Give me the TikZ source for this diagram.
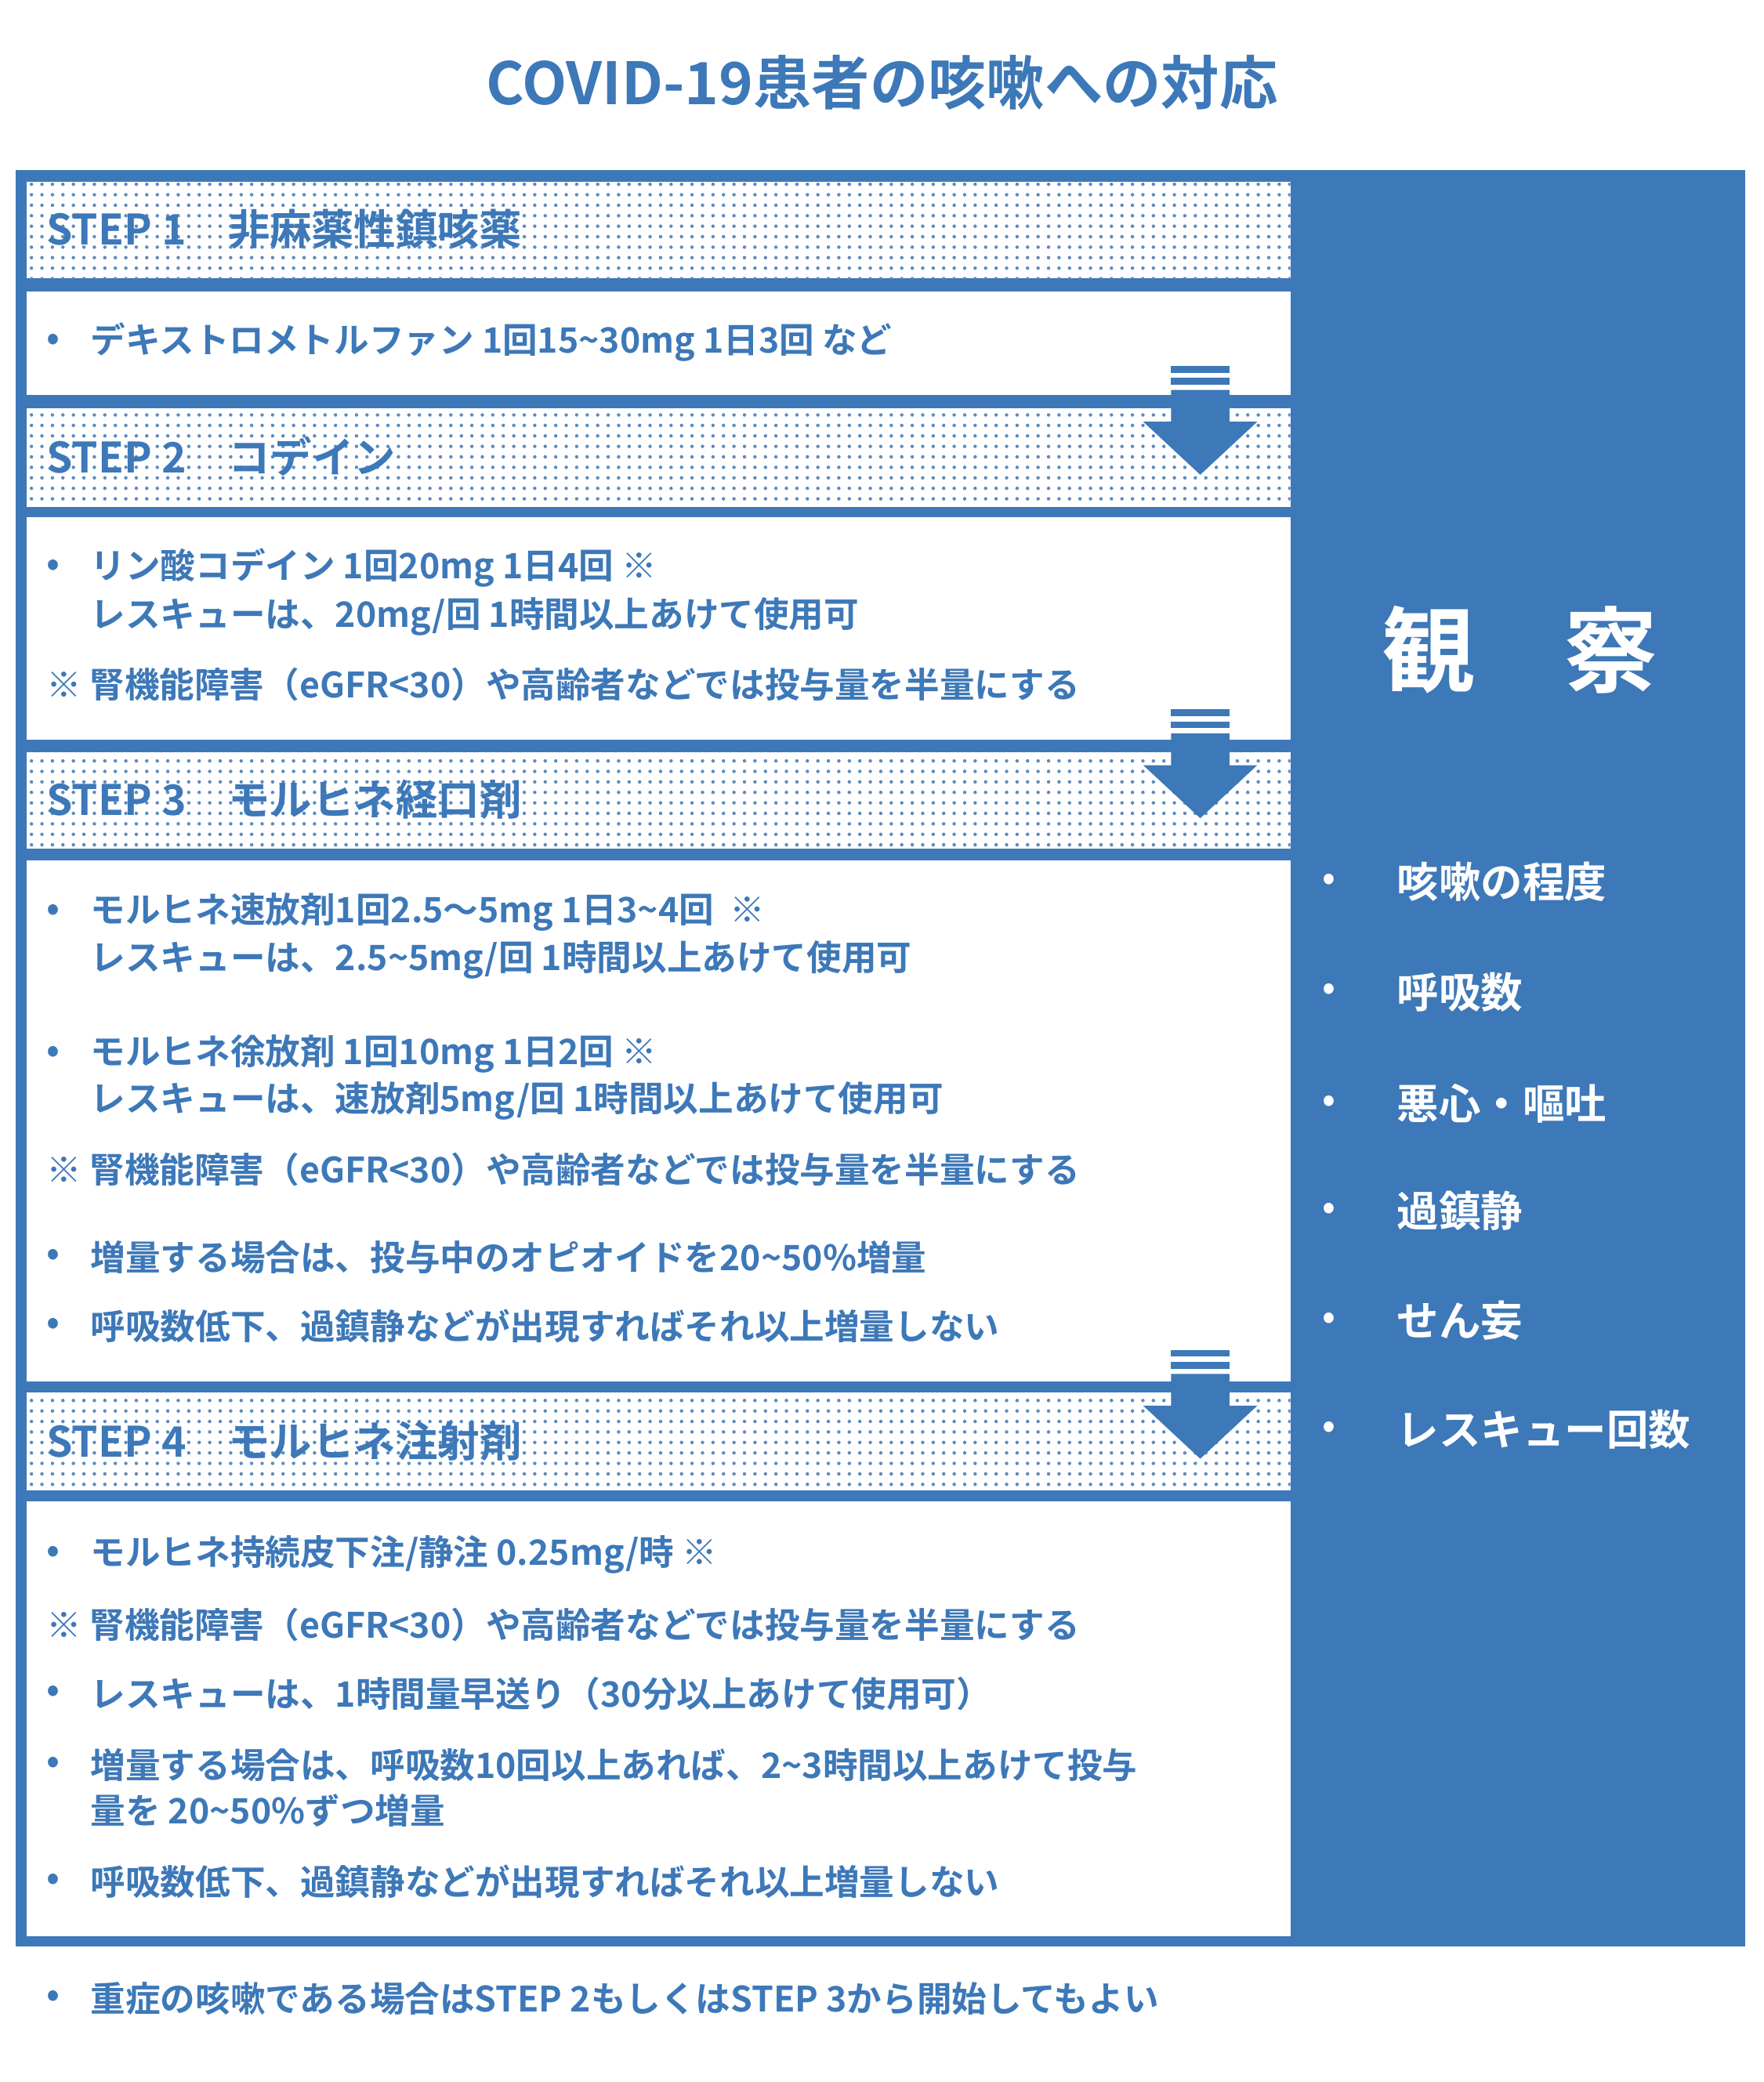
\documentclass[tikz,border=0pt]{standalone}
\usepackage{fontspec}
\setmainfont{Noto Sans CJK JP}[BoldFont={Noto Sans CJK JP Bold}]
\usetikzlibrary{patterns.meta}
\definecolor{cblue}{HTML}{3D78B8}
\newcommand{\tl}{\char"7E\relax}
\tikzset{
  headbox/.style={fill=white,pattern={Dots[distance=4.5pt,radius=0.75pt]},pattern color=cblue!85},
  bodybox/.style={fill=white},
  headtxt/.style={anchor=west,text=cblue,font=\bfseries\fontsize{18}{20}\selectfont,inner sep=0},
  bodytxt/.style={anchor=west,text=cblue,font=\bfseries\fontsize{15}{19}\selectfont,inner sep=0,align=left},
  dot/.style={anchor=center,text=cblue,font=\bfseries\fontsize{15}{19}\selectfont,inner sep=0},
  sidetxt/.style={anchor=west,text=white,font=\bfseries\fontsize{18}{20}\selectfont,inner sep=0},
}
\newcommand{\steparrow}[2]{%
  \fill[cblue] (883,#1) rectangle (927,#1+5);
  \fill[cblue] (883,#1+9) rectangle (927,#1+14);
  \fill[cblue] (883,#1+18) -- (927,#1+18) -- (927,#1+42) -- (948,#1+42)
     -- (905,#1+82) coordinate (#2) -- (862,#1+42) -- (883,#1+42) -- cycle;}
\begin{document}
\begin{tikzpicture}[x=0.02cm,y=-0.02cm]
\useasboundingbox (0,0) rectangle (1330,1570);
% title
\node[text=cblue,font=\bfseries\fontsize{25}{28}\selectfont] (title) at (665,62) {COVID-19患者の咳嗽への対応};
% frame
\fill[cblue] (12,128) rectangle (1316,1468);
\foreach \a/\b/\s in {137/210/headbox,220/298/bodybox,308/382/headbox,390/558/bodybox,
    567/640/headbox,649/1042/bodybox,1050/1124/headbox,1132/1460/bodybox}
  \fill[white] (20,\a) rectangle (973,\b);
\foreach \a/\b in {137/210,308/382,567/640,1050/1124}
  \path[headbox] (20,\a) rectangle (973,\b);
% arrows
\steparrow{276}{a1}
\steparrow{535}{a2}
\steparrow{1018}{a3}
% headers
\node[headtxt] (h1) at (35,173) {STEP 1\quad 非麻薬性鎮咳薬};
\node[headtxt] (h2) at (35,344) {STEP 2\quad コデイン};
\node[headtxt] (h3) at (35,603) {STEP 3\quad モルヒネ経口剤};
\node[headtxt] (h4) at (35,1087) {STEP 4\quad モルヒネ注射剤};
% bullets
\foreach \y in {258,428,688,795,948,1000,1172,1277,1331,1419,1507}
  \node[dot] at (40,\y) {•};
% step 1
\node[bodytxt] (t1) at (68,258) {デキストロメトルファン 1回15\tl30mg 1日3回 など};
% step 2
\node[bodytxt] (t2a) at (68,428) {リン酸コデイン 1回20mg 1日4回 ※};
\node[bodytxt] (t2b) at (68,465) {レスキューは、20mg/回 1時間以上あけて使用可};
\node[bodytxt] (t2c) at (35,516) {※ 腎機能障害（eGFR<30）や高齢者などでは投与量を半量にする};
% step 3
\node[bodytxt] (t3a) at (68,688) {モルヒネ速放剤1回2.5～5mg 1日3\tl4回\ \ ※};
\node[bodytxt] (t3b) at (68,724) {レスキューは、2.5\tl5mg/回 1時間以上あけて使用可};
\node[bodytxt] (t3c) at (68,795) {モルヒネ徐放剤 1回10mg 1日2回 ※};
\node[bodytxt] (t3d) at (68,830) {レスキューは、速放剤5mg/回 1時間以上あけて使用可};
\node[bodytxt] (t3e) at (35,882) {※ 腎機能障害（eGFR<30）や高齢者などでは投与量を半量にする};
\node[bodytxt] (t3f) at (68,948) {増量する場合は、投与中のオピオイドを20\tl50\%増量};
\node[bodytxt] (t3g) at (68,1000) {呼吸数低下、過鎮静などが出現すればそれ以上増量しない};
% step 4
\node[bodytxt] (t4a) at (68,1172) {モルヒネ持続皮下注/静注 0.25mg/時 ※};
\node[bodytxt] (t4b) at (35,1225) {※ 腎機能障害（eGFR<30）や高齢者などでは投与量を半量にする};
\node[bodytxt] (t4c) at (68,1277) {レスキューは、1時間量早送り（30分以上あけて使用可）};
\node[bodytxt] (t4d) at (68,1331) {増量する場合は、呼吸数10回以上あれば、2\tl3時間以上あけて投与};
\node[bodytxt] (t4e) at (68,1365) {量を 20\tl50\%ずつ増量};
\node[bodytxt] (t4f) at (68,1419) {呼吸数低下、過鎮静などが出現すればそれ以上増量しない};
% footer
\node[bodytxt] (foot) at (68,1507) {重症の咳嗽である場合はSTEP 2もしくはSTEP 3から開始してもよい};
% side column
\node[text=white,font=\bfseries\fontsize{40}{44}\selectfont,inner sep=0] (k1) at (1077,490) {観};
\node[text=white,font=\bfseries\fontsize{40}{44}\selectfont,inner sep=0] (k2) at (1215,490) {察};
\foreach \y/\t [count=\i] in {665/咳嗽の程度,748/呼吸数,832/悪心・嘔吐,913/過鎮静,996/せん妄,1078/レスキュー回数}{
  \node[text=white,font=\bfseries\fontsize{15}{19}\selectfont,inner sep=0] (sb\i) at (1002,\y) {•};
  \node[sidetxt] (s\i) at (1053,\y) {\t};}
\end{tikzpicture}
\end{document}
